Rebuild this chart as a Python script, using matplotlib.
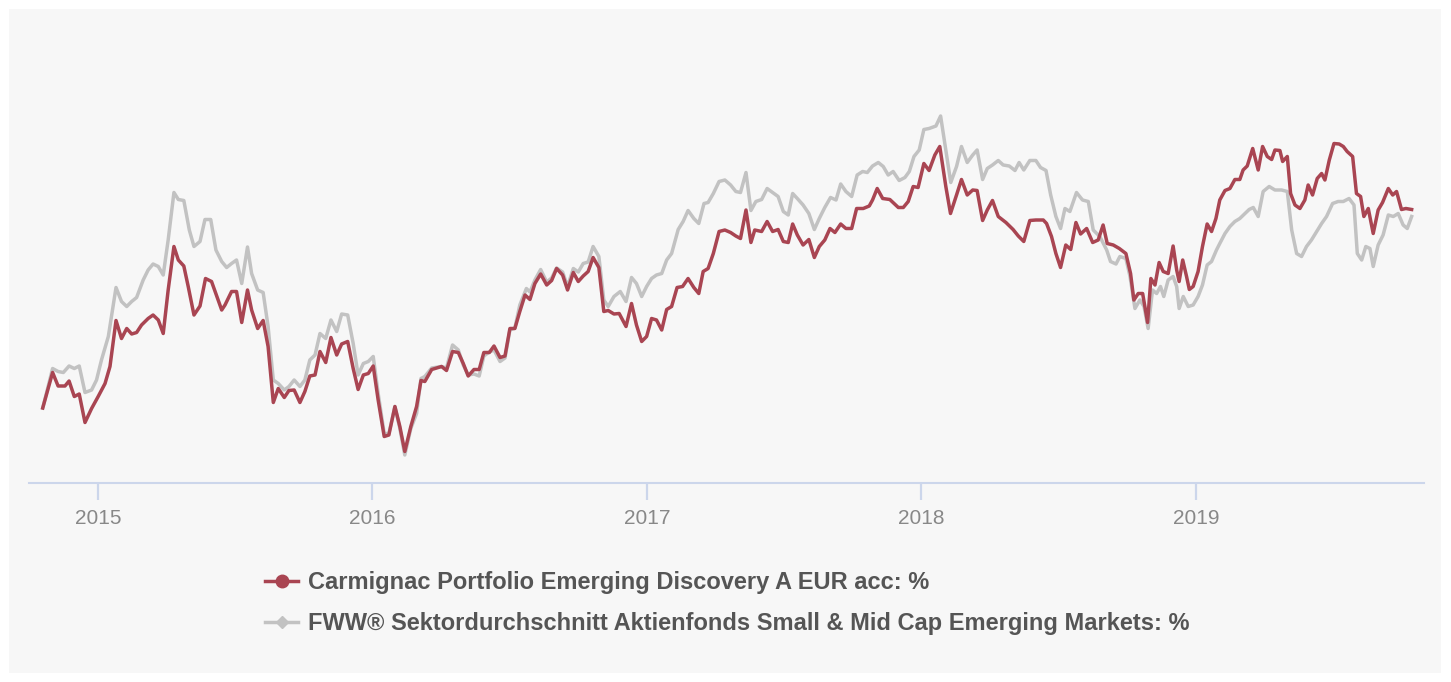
import matplotlib.pyplot as plt
from matplotlib.lines import Line2D
from matplotlib.patches import Rectangle

# performance in % since start, time in decimal years
red_t = [2014.799, 2014.835, 2014.855, 2014.880, 2014.895, 2014.914, 2014.932, 2014.953, 2014.977, 2015.001,
         2015.026, 2015.044, 2015.066, 2015.086, 2015.105, 2015.123, 2015.141, 2015.159, 2015.183, 2015.201,
         2015.220, 2015.238, 2015.256, 2015.277, 2015.293, 2015.313, 2015.329, 2015.350, 2015.372, 2015.392,
         2015.414, 2015.451, 2015.463, 2015.487, 2015.505, 2015.524, 2015.545, 2015.560, 2015.582, 2015.602,
         2015.620, 2015.639, 2015.657, 2015.679, 2015.696, 2015.715, 2015.736, 2015.754, 2015.772, 2015.791,
         2015.809, 2015.830, 2015.849, 2015.870, 2015.888, 2015.910, 2015.930, 2015.948, 2015.967, 2015.985,
         2016.003, 2016.021, 2016.043, 2016.060, 2016.082, 2016.100, 2016.118, 2016.140, 2016.161, 2016.177,
         2016.191, 2016.216, 2016.252, 2016.270, 2016.292, 2016.313, 2016.331, 2016.349, 2016.370, 2016.389,
         2016.406, 2016.426, 2016.443, 2016.465, 2016.483, 2016.501, 2016.519, 2016.537, 2016.556, 2016.574,
         2016.592, 2016.613, 2016.635, 2016.653, 2016.671, 2016.693, 2016.711, 2016.732, 2016.750, 2016.768,
         2016.786, 2016.804, 2016.825, 2016.843, 2016.859, 2016.880, 2016.899, 2016.924, 2016.944, 2016.962,
         2016.981, 2016.999, 2017.017, 2017.035, 2017.054, 2017.072, 2017.090, 2017.110, 2017.130, 2017.150,
         2017.171, 2017.189, 2017.205, 2017.223, 2017.242, 2017.263, 2017.284, 2017.305, 2017.324, 2017.341,
         2017.361, 2017.379, 2017.393, 2017.418, 2017.438, 2017.458, 2017.478, 2017.497, 2017.515, 2017.531,
         2017.548, 2017.569, 2017.590, 2017.610, 2017.628, 2017.648, 2017.667, 2017.685, 2017.706, 2017.725,
         2017.746, 2017.764, 2017.788, 2017.810, 2017.822, 2017.839, 2017.859, 2017.885, 2017.916, 2017.934,
         2017.952, 2017.970, 2017.988, 2018.009, 2018.028, 2018.049, 2018.067, 2018.089, 2018.106, 2018.128,
         2018.146, 2018.167, 2018.187, 2018.203, 2018.223, 2018.240, 2018.259, 2018.280, 2018.308, 2018.334,
         2018.353, 2018.373, 2018.395, 2018.417, 2018.444, 2018.456, 2018.474, 2018.490, 2018.507, 2018.526,
         2018.544, 2018.563, 2018.580, 2018.602, 2018.624, 2018.644, 2018.662, 2018.677, 2018.699, 2018.721,
         2018.745, 2018.762, 2018.774, 2018.790, 2018.806, 2018.824, 2018.836, 2018.851, 2018.866, 2018.881,
         2018.899, 2018.917, 2018.930, 2018.939, 2018.952, 2018.966, 2018.976, 2018.990, 2019.008, 2019.024,
         2019.041, 2019.057, 2019.073, 2019.087, 2019.106, 2019.124, 2019.142, 2019.160, 2019.172, 2019.187,
         2019.207, 2019.227, 2019.243, 2019.260, 2019.276, 2019.288, 2019.306, 2019.316, 2019.333, 2019.345,
         2019.361, 2019.379, 2019.397, 2019.409, 2019.425, 2019.442, 2019.458, 2019.470, 2019.486, 2019.503,
         2019.522, 2019.537, 2019.551, 2019.571, 2019.585, 2019.600, 2019.612, 2019.628, 2019.646, 2019.664,
         2019.680, 2019.701, 2019.717, 2019.731, 2019.749, 2019.765, 2019.786]
red_v = [0.0, 7.1, 4.4, 4.4, 5.4, 2.3, 2.8, -2.9, -0.1, 2.3,
         4.9, 8.3, 17.5, 13.9, 15.9, 14.8, 15.1, 16.6, 17.9, 18.6,
         17.6, 14.9, 23.6, 32.3, 29.6, 28.4, 24.3, 18.6, 20.4, 25.9,
         25.3, 19.6, 20.6, 23.3, 23.3, 17.1, 23.6, 19.6, 15.9, 17.5,
         12.3, 1.1, 3.9, 2.1, 3.5, 3.6, 1.1, 3.3, 6.4, 6.6,
         11.3, 9.1, 14.1, 10.6, 12.8, 13.3, 7.9, 3.7, 6.6, 6.9,
         8.4, 1.6, -5.7, -5.4, 0.3, -3.7, -8.7, -3.7, 0.3, 5.5,
         5.3, 7.7, 8.3, 7.5, 11.3, 11.1, 8.9, 6.4, 7.7, 7.7,
         11.1, 11.1, 12.4, 10.1, 10.4, 15.9, 15.9, 19.3, 22.6, 21.7,
         24.9, 26.8, 24.6, 25.5, 27.9, 26.6, 23.6, 27.1, 25.3, 26.4,
         27.3, 30.1, 28.1, 19.3, 19.5, 18.8, 18.9, 16.3, 20.9, 16.6,
         13.3, 14.3, 17.9, 17.6, 15.6, 19.7, 20.3, 24.1, 24.3, 25.9,
         24.1, 22.9, 27.3, 27.9, 30.9, 35.3, 35.6, 35.1, 34.4, 33.9,
         39.6, 33.1, 35.6, 35.3, 37.3, 35.3, 35.7, 33.3, 33.1, 36.8,
         34.6, 32.6, 33.7, 30.1, 32.3, 33.6, 35.9, 35.1, 36.8, 35.9,
         35.9, 39.9, 39.9, 40.4, 41.6, 43.9, 41.9, 41.7, 40.1, 40.1,
         41.3, 44.3, 44.1, 48.9, 47.5, 50.6, 52.3, 44.3, 38.9, 42.6,
         45.7, 42.6, 43.6, 43.5, 37.5, 39.6, 41.5, 38.3, 37.1, 35.7,
         34.4, 33.3, 37.5, 37.6, 37.6, 36.9, 34.3, 30.9, 28.1, 32.6,
         31.7, 37.1, 34.8, 35.9, 33.1, 33.6, 36.6, 32.9, 32.6, 31.9,
         30.9, 26.9, 21.6, 22.9, 22.9, 17.1, 25.9, 24.6, 29.1, 27.3,
         26.9, 32.4, 27.6, 25.3, 29.6, 26.3, 23.7, 24.3, 27.3, 32.3,
         36.8, 35.3, 37.9, 41.6, 43.5, 43.9, 45.7, 45.7, 47.6, 48.4,
         51.9, 47.6, 52.3, 50.3, 49.7, 51.6, 51.5, 49.3, 50.3, 42.9,
         40.6, 39.9, 41.6, 44.6, 42.6, 45.9, 46.9, 45.6, 49.6, 52.9,
         52.8, 52.3, 51.3, 50.3, 42.9, 42.3, 38.3, 39.9, 34.9, 39.6,
         41.1, 43.9, 42.6, 43.3, 39.7, 39.9, 39.7]

gray_t = [2014.799, 2014.835, 2014.855, 2014.874, 2014.895, 2014.914, 2014.932, 2014.953, 2014.977, 2014.995,
          2015.013, 2015.038, 2015.066, 2015.086, 2015.105, 2015.123, 2015.141, 2015.165, 2015.183, 2015.201,
          2015.220, 2015.238, 2015.256, 2015.277, 2015.293, 2015.313, 2015.333, 2015.350, 2015.372, 2015.390,
          2015.411, 2015.430, 2015.451, 2015.469, 2015.487, 2015.505, 2015.524, 2015.545, 2015.560, 2015.582,
          2015.602, 2015.620, 2015.639, 2015.657, 2015.679, 2015.696, 2015.715, 2015.736, 2015.754, 2015.772,
          2015.791, 2015.809, 2015.830, 2015.849, 2015.870, 2015.888, 2015.910, 2015.930, 2015.948, 2015.967,
          2015.985, 2016.003, 2016.021, 2016.043, 2016.060, 2016.082, 2016.100, 2016.118, 2016.140, 2016.161,
          2016.177, 2016.191, 2016.216, 2016.252, 2016.270, 2016.292, 2016.313, 2016.331, 2016.349, 2016.370,
          2016.389, 2016.406, 2016.426, 2016.443, 2016.465, 2016.483, 2016.501, 2016.519, 2016.537, 2016.561,
          2016.574, 2016.592, 2016.613, 2016.635, 2016.653, 2016.671, 2016.693, 2016.711, 2016.732, 2016.750,
          2016.768, 2016.786, 2016.804, 2016.825, 2016.843, 2016.859, 2016.880, 2016.903, 2016.924, 2016.944,
          2016.962, 2016.981, 2016.999, 2017.017, 2017.035, 2017.054, 2017.072, 2017.090, 2017.114, 2017.132,
          2017.150, 2017.171, 2017.189, 2017.208, 2017.223, 2017.242, 2017.263, 2017.284, 2017.305, 2017.324,
          2017.341, 2017.361, 2017.379, 2017.397, 2017.418, 2017.438, 2017.458, 2017.478, 2017.497, 2017.515,
          2017.531, 2017.548, 2017.569, 2017.590, 2017.610, 2017.628, 2017.648, 2017.669, 2017.689, 2017.706,
          2017.725, 2017.746, 2017.766, 2017.786, 2017.803, 2017.822, 2017.843, 2017.861, 2017.879, 2017.897,
          2017.919, 2017.940, 2017.956, 2017.973, 2017.992, 2018.009, 2018.028, 2018.053, 2018.070, 2018.089,
          2018.107, 2018.128, 2018.146, 2018.167, 2018.187, 2018.203, 2018.223, 2018.240, 2018.259, 2018.280,
          2018.298, 2018.320, 2018.341, 2018.356, 2018.373, 2018.395, 2018.417, 2018.434, 2018.454, 2018.471,
          2018.490, 2018.507, 2018.523, 2018.541, 2018.565, 2018.587, 2018.608, 2018.626, 2018.650, 2018.675,
          2018.689, 2018.709, 2018.723, 2018.745, 2018.760, 2018.778, 2018.796, 2018.811, 2018.826, 2018.842,
          2018.857, 2018.871, 2018.883, 2018.899, 2018.917, 2018.930, 2018.939, 2018.954, 2018.972, 2018.990,
          2019.008, 2019.024, 2019.041, 2019.057, 2019.075, 2019.087, 2019.106, 2019.124, 2019.142, 2019.160,
          2019.179, 2019.194, 2019.209, 2019.227, 2019.245, 2019.267, 2019.288, 2019.312, 2019.333, 2019.349,
          2019.367, 2019.385, 2019.403, 2019.421, 2019.440, 2019.458, 2019.476, 2019.498, 2019.518, 2019.537,
          2019.558, 2019.576, 2019.588, 2019.604, 2019.619, 2019.634, 2019.646, 2019.664, 2019.682, 2019.701,
          2019.719, 2019.737, 2019.755, 2019.770, 2019.786]
gray_v = [0.0, 7.9, 7.3, 7.1, 8.4, 7.9, 8.4, 3.1, 3.6, 5.6,
          9.6, 14.3, 24.1, 21.3, 20.3, 21.3, 22.1, 25.6, 27.6, 28.8,
          28.3, 26.6, 33.6, 43.1, 41.7, 41.5, 35.6, 32.3, 33.3, 37.7,
          37.7, 31.6, 29.3, 28.1, 28.9, 29.6, 24.9, 32.2, 26.9, 23.6,
          23.1, 16.3, 5.6, 4.9, 3.6, 4.3, 5.6, 4.3, 5.6, 9.6,
          10.6, 14.9, 13.9, 17.6, 15.3, 18.8, 18.6, 12.9, 6.6, 8.9,
          9.3, 10.3, 2.9, -5.1, -5.1, 0.3, -4.1, -9.4, -4.1, -1.1,
          5.9, 6.3, 8.0, 8.3, 8.0, 12.6, 11.6, 8.6, 6.6, 6.8,
          6.4, 10.4, 11.2, 11.6, 9.3, 10.0, 15.6, 16.0, 20.6, 23.9,
          23.2, 25.6, 27.7, 25.2, 26.0, 28.0, 27.2, 24.3, 27.9, 27.2,
          28.9, 29.2, 32.3, 30.3, 21.6, 20.3, 22.3, 23.3, 21.3, 26.1,
          24.9, 22.3, 24.3, 25.9, 26.6, 26.9, 29.6, 30.9, 35.7, 37.3,
          39.5, 37.9, 36.9, 40.9, 41.1, 42.9, 45.3, 45.6, 44.6, 43.3,
          43.1, 47.1, 39.5, 41.3, 41.7, 43.9, 43.1, 42.3, 39.3, 38.6,
          42.9, 41.9, 40.6, 38.9, 35.7, 37.9, 40.1, 42.1, 41.6, 44.8,
          43.3, 42.3, 46.6, 47.3, 47.1, 48.4, 49.1, 48.3, 46.6, 47.3,
          45.5, 46.1, 47.3, 50.3, 51.6, 55.7, 55.9, 56.4, 58.4, 51.6,
          45.1, 48.3, 52.3, 49.1, 50.6, 51.6, 45.7, 47.9, 48.6, 49.5,
          48.6, 48.4, 47.5, 49.1, 47.6, 49.5, 49.5, 48.1, 47.5, 42.6,
          38.3, 35.9, 39.9, 39.3, 43.1, 41.6, 41.3, 35.6, 34.3, 31.6,
          29.3, 28.8, 30.3, 29.9, 26.3, 19.9, 21.6, 20.3, 15.9, 23.6,
          22.9, 24.3, 22.3, 25.6, 26.3, 24.3, 19.9, 22.3, 20.3, 20.6,
          22.3, 24.6, 28.6, 29.3, 31.6, 32.9, 34.9, 36.3, 37.3, 37.9,
          38.9, 39.7, 40.1, 38.3, 43.3, 44.3, 43.6, 43.6, 43.3, 35.6,
          30.9, 30.3, 32.3, 33.6, 35.3, 36.9, 38.3, 40.9, 41.3, 41.3,
          41.9, 40.6, 30.9, 29.6, 32.3, 31.9, 28.3, 32.6, 34.6, 38.6,
          38.3, 38.9, 36.6, 35.9, 38.3]

years = [2015, 2016, 2017, 2018, 2019]
labels = ["Carmignac Portfolio Emerging Discovery A EUR acc: %",
          "FWW® Sektordurchschnitt Aktienfonds Small & Mid Cap Emerging Markets: %"]

red_col = '#a94552'
gray_col = '#c2c2c2'
axis_col = '#ccd6eb'

plt.rcParams['font.family'] = ['Liberation Sans', 'DejaVu Sans']

W, H = 1451, 682
fig = plt.figure(figsize=(W / 100, H / 100), dpi=100)
fig.patch.set_facecolor('white')
# light grey card behind the chart
fig.patches.append(Rectangle((9 / W, 9 / H), 1432 / W, 664 / H, transform=fig.transFigure,
                             facecolor='#f7f7f7', edgecolor='none', zorder=-1))

ax = fig.add_axes([29 / W, 1 - 483 / H, 1395 / W, 453 / H])
ax.set_zorder(1)
ax.set_facecolor('none')

ax.plot(gray_t, gray_v, color=gray_col, lw=2.5, solid_joinstyle='round')
ax.plot(red_t, red_v, color=red_col, lw=2.5, solid_joinstyle='round')

ax.set_xlim(2014.749, 2019.831)
ax.set_ylim(-15, 75.6)

for s in ['top', 'right', 'left']:
    ax.spines[s].set_visible(False)
ax.spines['bottom'].set_color(axis_col)
ax.spines['bottom'].set_linewidth(1.5)
ax.set_yticks([])
ax.set_xticks(years)
ax.set_xticklabels([str(y) for y in years])
ax.tick_params(axis='x', length=12, width=1.6, color=axis_col, labelcolor='#888888',
               labelsize=15, pad=7)

handles = [Line2D([], [], color=red_col, lw=2.5, marker='o', markersize=9),
           Line2D([], [], color=gray_col, lw=2.5, marker='D', markersize=6)]
fig.legend(handles, labels, loc='center left', bbox_to_anchor=(265 / W, 1 - 603 / H),
           frameon=False, borderpad=0, borderaxespad=0, handlelength=1.4, handletextpad=0.42,
           labelspacing=0.78, labelcolor='#555555',
           prop={'weight': 'bold', 'size': 17})

fig.savefig('out.png', dpi=100)
